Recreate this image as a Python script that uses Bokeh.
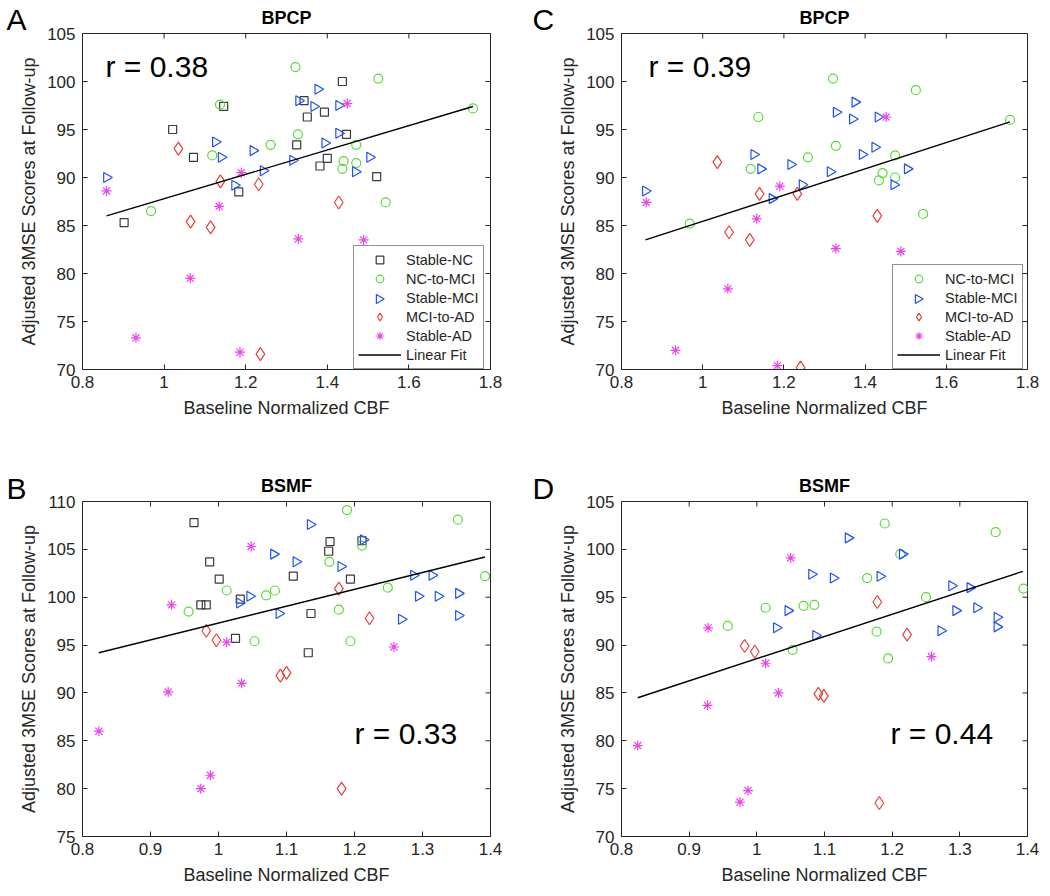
import numpy as np
from bokeh.plotting import figure
from bokeh.models import (Range1d, FixedTicker, Label, Legend, LegendItem,
                          CustomJSTickFormatter)
from bokeh.layouts import column, row
from bokeh.embed import file_html
from bokeh.resources import INLINE

# ---------------- data ----------------
group_names = ["Stable-NC", "NC-to-MCI", "Stable-MCI", "MCI-to-AD", "Stable-AD"]

# Panel A : BPCP, all groups
a_snc_x = [1.437, 1.146, 1.343, 1.351, 1.393, 1.021, 1.447, 1.325, 1.072, 1.400, 1.382, 1.521, 1.183, 0.902]
a_snc_y = [100.0, 97.4, 98.0, 96.3, 96.8, 95.0, 94.5, 93.4, 92.1, 92.0, 91.2, 90.1, 88.5, 85.3]
a_ncm_x = [1.322, 1.525, 1.757, 1.137, 1.328, 1.261, 1.471, 1.118, 1.440, 1.471, 1.437, 1.543, 0.968]
a_ncm_y = [101.5, 100.3, 97.2, 97.6, 94.5, 93.4, 93.4, 92.3, 91.7, 91.5, 90.9, 87.4, 86.5]
a_smci_x = [1.377, 1.330, 1.367, 1.428, 1.428, 1.126, 1.394, 1.218, 1.140, 1.504, 1.315, 1.243, 1.469, 0.859, 1.173]
a_smci_y = [99.2, 98.0, 97.4, 97.5, 94.6, 93.7, 93.6, 92.8, 92.1, 92.1, 91.8, 90.7, 90.6, 90.0, 89.2]
a_mad_x = [1.035, 1.138, 1.232, 1.428, 1.065, 1.114, 1.236]
a_mad_y = [93.0, 89.6, 89.3, 87.4, 85.4, 84.8, 71.6]
a_sad_x = [0.859, 0.931, 1.064, 1.135, 1.186, 1.189, 1.329, 1.449, 1.489]
a_sad_y = [88.6, 73.3, 79.5, 87.0, 71.8, 90.5, 83.6, 97.7, 83.5]
a_fit_x = [0.859, 1.757]
a_fit_y = [86.0, 97.4]

# Panel C : BPCP, without Stable-NC
c_ncm_x = [1.321, 1.525, 1.757, 1.137, 1.328, 1.259, 1.474, 1.118, 1.443, 1.474, 1.434, 1.543, 0.968]
c_ncm_y = [100.3, 99.1, 96.0, 96.3, 93.3, 92.1, 92.3, 90.9, 90.45, 90.0, 89.7, 86.2, 85.2]
c_smci_x = [1.375, 1.329, 1.369, 1.432, 1.424, 1.126, 1.393, 1.217, 1.143, 1.504, 1.314, 1.471, 1.245, 0.859, 1.171]
c_smci_y = [97.85, 96.8, 96.1, 96.3, 93.15, 92.4, 92.4, 91.35, 90.9, 90.9, 90.6, 89.25, 89.25, 88.6, 87.8]
c_mad_x = [1.036, 1.140, 1.233, 1.430, 1.065, 1.116, 1.241]
c_mad_y = [91.6, 88.3, 88.3, 86.0, 84.3, 83.5, 70.2]
c_sad_x = [0.861, 0.933, 1.062, 1.133, 1.184, 1.190, 1.328, 1.452, 1.488]
c_sad_y = [87.4, 72.0, 78.4, 85.7, 70.4, 89.1, 82.6, 96.3, 82.3]
c_fit_x = [0.859, 1.757]
c_fit_y = [83.5, 95.8]

# Panel B : BSMF, all groups
b_snc_x = [0.964, 0.987, 1.001, 0.974, 0.982, 1.032, 1.025, 1.110, 1.164, 1.162, 1.194, 1.136, 1.132, 1.211]
b_snc_y = [107.8, 103.7, 101.9, 99.2, 99.2, 99.8, 95.7, 102.2, 105.8, 104.8, 101.9, 98.3, 94.2, 105.9]
b_ncm_x = [1.189, 1.352, 1.211, 1.163, 1.392, 1.012, 1.070, 1.083, 1.249, 0.956, 1.177, 1.053, 1.194]
b_ncm_y = [109.1, 108.1, 105.4, 103.7, 102.2, 100.7, 100.2, 100.7, 101.0, 98.5, 98.7, 95.4, 95.4]
b_smci_x = [1.135, 1.213, 1.081, 1.114, 1.180, 1.287, 1.314, 1.046, 1.031, 1.294, 1.323, 1.353, 1.353, 1.089, 1.269]
b_smci_y = [107.6, 106.0, 104.5, 103.7, 103.2, 102.3, 102.3, 100.1, 99.4, 100.1, 100.1, 100.4, 98.1, 98.3, 97.7]
b_mad_x = [1.177, 1.222, 0.982, 0.997, 1.091, 1.100, 1.181]
b_mad_y = [100.9, 97.8, 96.5, 95.5, 91.8, 92.1, 80.0]
b_sad_x = [1.048, 0.931, 1.012, 1.258, 1.034, 0.926, 0.824, 0.988, 0.974]
b_sad_y = [105.3, 99.2, 95.3, 94.8, 91.0, 90.1, 86.0, 81.4, 80.0]
b_fit_x = [0.824, 1.392]
b_fit_y = [94.2, 104.2]

# Panel D : BSMF, without Stable-NC
d_ncm_x = [1.189, 1.353, 1.212, 1.163, 1.394, 1.250, 1.013, 1.069, 1.085, 0.957, 1.177, 1.053, 1.194]
d_ncm_y = [102.7, 101.8, 99.5, 97.0, 95.9, 95.0, 93.9, 94.1, 94.2, 92.0, 91.4, 89.5, 88.6]
d_smci_x = [1.135, 1.215, 1.081, 1.113, 1.182, 1.288, 1.315, 1.046, 1.294, 1.325, 1.355, 1.355, 1.029, 1.272, 1.087]
d_smci_y = [101.2, 99.5, 97.4, 97.0, 97.2, 96.2, 96.0, 93.6, 93.6, 93.9, 92.9, 91.9, 91.8, 91.5, 91.0]
d_mad_x = [1.178, 1.222, 0.982, 0.997, 1.091, 1.099, 1.181]
d_mad_y = [94.5, 91.1, 89.9, 89.3, 84.9, 84.7, 73.5]
d_sad_x = [1.050, 0.928, 1.013, 1.258, 1.032, 0.927, 0.824, 0.975, 0.987]
d_sad_y = [99.1, 91.8, 88.1, 88.8, 85.0, 83.7, 79.5, 73.6, 74.8]
d_fit_x = [0.824, 1.393]
d_fit_y = [84.5, 97.7]

xticks_bpcp = [0.8, 1.0, 1.2, 1.4, 1.6, 1.8]
xticks_bsmf = [0.8, 0.9, 1.0, 1.1, 1.2, 1.3, 1.4]
yticks_70_105 = [70, 75, 80, 85, 90, 95, 100, 105]
yticks_75_110 = [75, 80, 85, 90, 95, 100, 105, 110]

# ---------------- styling ----------------
FONT = "Liberation Sans"
AX = "#262626"
TICK = 5
STYLE = {
    "Stable-NC": dict(marker="square", color="#3a3a3a", size=8, angle=0.0),
    "NC-to-MCI": dict(marker="circle", color="#55dd33", size=9, angle=0.0),
    "Stable-MCI": dict(marker="triangle", color="#1f4fff", size=10, angle=-np.pi / 2),
    "MCI-to-AD": dict(marker="diamond", color="#e8403a", size=13, angle=0.0),
    "Stable-AD": dict(marker="asterisk", color="#ee44ee", size=10, angle=0.0),
}

fmt = CustomJSTickFormatter(code="return String(Math.round(tick*100)/100);")


def style_axis(ax, ticks, label):
    ax.ticker = FixedTicker(ticks=ticks)
    ax.axis_line_color = AX
    ax.major_tick_line_color = AX
    ax.major_tick_in = TICK
    ax.major_tick_out = 0
    ax.minor_tick_line_color = None
    ax.major_label_text_font = FONT
    ax.major_label_text_font_size = "17px"
    ax.major_label_text_color = AX
    ax.axis_label = label
    ax.axis_label_text_font = FONT
    ax.axis_label_text_font_size = "18px"
    ax.axis_label_text_font_style = "normal"
    ax.axis_label_text_color = AX


def px_to_data(geom, xr, yr, px, py):
    """pixel position inside this figure -> data coordinates"""
    w, h, bl, br, bt, bb = geom
    fw, fh = w - bl - br, h - bt - bb
    x = xr[0] + (px - bl) * (xr[1] - xr[0]) / fw
    y = yr[1] - (py - bt) * (yr[1] - yr[0]) / fh
    return x, y


def panel(series, fit_x, fit_y, xr, yr, xticks, yticks, geom, r_text, r_px,
          title, title_py, letter, letter_px, letter_side, legend_x):
    w, h, bl, br, bt, bb = geom
    fw, fh = w - bl - br, h - bt - bb
    p = figure(width=w, height=h, x_range=Range1d(*xr), y_range=Range1d(*yr),
               output_backend="svg", toolbar_location=None, title=None,
               min_border_left=bl, min_border_right=br, min_border_top=bt, min_border_bottom=bb)
    p.xgrid.visible = False
    p.ygrid.visible = False
    p.outline_line_color = AX
    p.outline_line_width = 1
    style_axis(p.xaxis[0], xticks, "Baseline Normalized CBF")
    p.xaxis[0].formatter = fmt
    p.xaxis[0].major_label_standoff = 6
    p.xaxis[0].axis_label_standoff = 7
    style_axis(p.yaxis[0], yticks, "Adjusted 3MSE Scores at Follow-up")
    p.yaxis[0].major_label_standoff = 7
    p.yaxis[0].axis_label_standoff = 5

    # mirrored ticks on the top and right edges of the box (inside)
    sx = fw / (xr[1] - xr[0])
    sy = fh / (yr[1] - yr[0])
    p.segment(x0=xticks, y0=[yr[1]] * len(xticks), x1=xticks,
              y1=[yr[1] - TICK / sy] * len(xticks), line_color=AX, line_width=1)
    p.segment(x0=[xr[1]] * len(yticks), y0=yticks, x1=[xr[1] - TICK / sx] * len(yticks),
              y1=yticks, line_color=AX, line_width=1)

    items = []
    for name, (xs, ys) in series:
        st = STYLE[name]
        r = p.scatter(xs, ys, marker=st["marker"], size=st["size"], angle=st["angle"],
                      fill_color=None, line_color=st["color"], line_width=1.2)
        if name == "Stable-MCI" and legend_x is not None:
            # legend glyphs are never rotated in Bokeh: use an empty stand-in
            dummy = p.scatter([], [], marker="triangle", fill_color=None, line_color=None)
            items.append(LegendItem(label=name, renderers=[dummy]))
        else:
            items.append(LegendItem(label=name, renderers=[r]))
    fr = p.line(fit_x, fit_y, line_color="black", line_width=1.4)
    items.append(LegendItem(label="Linear Fit", renderers=[fr]))

    if legend_x is not None:
        pad, gw, rh = 4, 43, 19
        leg = Legend(items=items, location=(legend_x, 0), orientation="vertical",
                     label_text_font=FONT, label_text_font_size="14.5px", label_text_color=AX,
                     glyph_width=gw, glyph_height=rh, label_height=rh, label_width=72,
                     label_standoff=5, spacing=0, padding=pad, margin=0,
                     border_line_color=AX, border_line_width=1,
                     background_fill_color="white", background_fill_alpha=0.0)
        p.add_layout(leg)
        # right-pointing triangle for the Stable-MCI legend row
        k = [n for n, _ in series].index("Stable-MCI")
        leg_h = 2 * pad + rh * len(items)
        gx = legend_x + pad + gw / 2
        gy = leg_h - pad - rh * (k + 0.5)
        st = STYLE["Stable-MCI"]
        p.scatter([xr[0] + gx / sx], [yr[0] + gy / sy], marker="triangle", size=9,
                  angle=st["angle"], fill_color=None, line_color=st["color"], line_width=1.2)

    rx, ry = px_to_data(geom, xr, yr, *r_px)
    p.add_layout(Label(x=rx, y=ry, text=r_text, text_font=FONT, text_font_size="30px",
                       text_color="black", text_baseline="middle"))

    # title and panel letter live in side panels so that they are not clipped to the frame
    tx, ty = px_to_data(geom, xr, yr, bl + fw / 2, title_py)
    p.add_layout(Label(x=tx, y=ty, text=title, text_font=FONT, text_font_size="18px",
                       text_font_style="bold", text_color="black", text_align="center",
                       text_baseline="middle"), "above")
    lx, ly = px_to_data(geom, xr, yr, *letter_px)
    p.add_layout(Label(x=lx, y=ly, text=letter, text_font=FONT, text_font_size="30px",
                       text_color="black", text_align="left", text_baseline="middle"),
                 letter_side)
    return p


# geometry: (width, height, border_left, border_right, border_top, border_bottom)
gA = (529, 436, 82, 39, 33, 67)
gC = (516, 436, 92, 18, 33, 67)
gB = (529, 456, 82, 39, 65, 56)
gD = (516, 456, 92, 18, 65, 56)

pA = panel([("Stable-NC", (a_snc_x, a_snc_y)), ("NC-to-MCI", (a_ncm_x, a_ncm_y)),
            ("Stable-MCI", (a_smci_x, a_smci_y)), ("MCI-to-AD", (a_mad_x, a_mad_y)),
            ("Stable-AD", (a_sad_x, a_sad_y))],
           a_fit_x, a_fit_y, (0.8, 1.8), (70, 105), xticks_bpcp, yticks_70_105,
           gA, "r = 0.38", (105, 66), "BPCP", 17, "A", (6, 19), "right", 271)

pC = panel([("NC-to-MCI", (c_ncm_x, c_ncm_y)), ("Stable-MCI", (c_smci_x, c_smci_y)),
            ("MCI-to-AD", (c_mad_x, c_mad_y)), ("Stable-AD", (c_sad_x, c_sad_y))],
           c_fit_x, c_fit_y, (0.8, 1.8), (70, 105), xticks_bpcp, yticks_70_105,
           gC, "r = 0.39", (119, 66), "BPCP", 17, "C", (3, 19), "left", 271)

pB = panel([("Stable-NC", (b_snc_x, b_snc_y)), ("NC-to-MCI", (b_ncm_x, b_ncm_y)),
            ("Stable-MCI", (b_smci_x, b_smci_y)), ("MCI-to-AD", (b_mad_x, b_mad_y)),
            ("Stable-AD", (b_sad_x, b_sad_y))],
           b_fit_x, b_fit_y, (0.8, 1.4), (75, 110), xticks_bsmf, yticks_75_110,
           gB, "r = 0.33", (354, 297), "BSMF", 49, "B", (6, 52), "right", None)

pD = panel([("NC-to-MCI", (d_ncm_x, d_ncm_y)), ("Stable-MCI", (d_smci_x, d_smci_y)),
            ("MCI-to-AD", (d_mad_x, d_mad_y)), ("Stable-AD", (d_sad_x, d_sad_y))],
           d_fit_x, d_fit_y, (0.8, 1.4), (70, 105), xticks_bsmf, yticks_70_105,
           gD, "r = 0.44", (361, 297), "BSMF", 49, "D", (3, 52), "left", None)

layout = column(row(pA, pC), row(pB, pD))
open("out.html", "w").write(file_html(layout, INLINE))
